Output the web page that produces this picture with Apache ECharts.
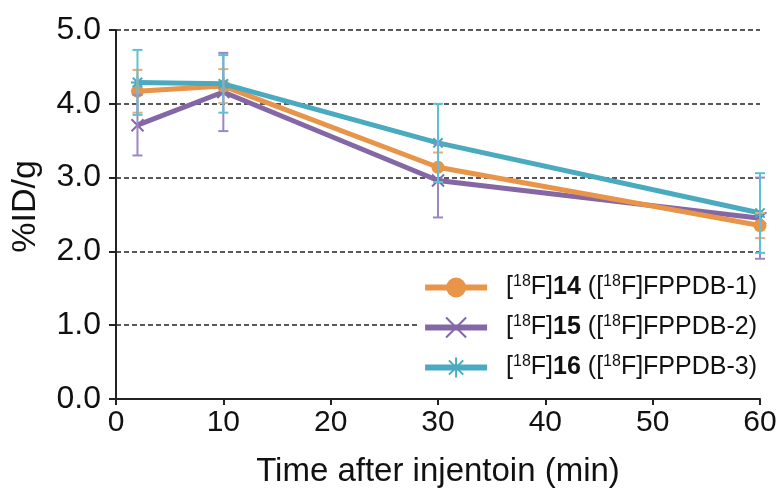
<!DOCTYPE html>
<html>
<head>
<meta charset="utf-8">
<script src="https://cdn.jsdelivr.net/npm/echarts@6/dist/echarts.min.js"></script>
<style>html,body{margin:0;padding:0;background:#fff;}#c{width:780px;height:497px;}</style>
</head>
<body>
<div id="c"></div>
<script>
var times = [2, 10, 30, 60];
var yTicks = [0, 1, 2, 3, 4, 5];
var xTicks = [0, 10, 20, 30, 40, 50, 60];
var mean14 = [4.17, 4.24, 3.14, 2.35];
var sd14   = [0.29, 0.23, 0.20, 0.17];
var mean15 = [3.71, 4.16, 2.96, 2.45];
var sd15   = [0.41, 0.53, 0.50, 0.55];
var mean16 = [4.29, 4.27, 3.47, 2.52];
var sd16   = [0.44, 0.39, 0.53, 0.54];

var seriesNames = ['s14', 's15', 's16'];
var legendText = {
  s14: '{g| }{n|[}{sup|18}{n|F]}{b|14}{n| ([}{sup|18}{n|F]FPPDB-1)}',
  s15: '{g| }{n|[}{sup|18}{n|F]}{b|15}{n| ([}{sup|18}{n|F]FPPDB-2)}',
  s16: '{g| }{n|[}{sup|18}{n|F]}{b|16}{n| ([}{sup|18}{n|F]FPPDB-3)}'
};
var lineColors = ['#E8954A', '#8468A6', '#4AAABF'];
var barColors = ['#F2AA6A', '#9C87C2', '#5EC0D8'];

function pts(means) { return times.map(function (t, i) { return [t, means[i]]; }); }
function errs(means, sds) { return times.map(function (t, i) { return [t, means[i] - sds[i], means[i] + sds[i]]; }); }

var xSym = 'path://M0,0L10,10M10,0L0,10';
var starSym = 'path://M0,0L10,10M10,0L0,10M5,-2L5,12M-2,5L12,5';

function errSeries(data, color) {
  return {
    type: 'custom',
    z: 5,
    silent: true,
    renderItem: function (params, api) {
      var x = api.value(0);
      var lo = api.coord([x, api.value(1)]);
      var hi = api.coord([x, api.value(2)]);
      var hw = 5;
      var st = { stroke: color, lineWidth: 2 };
      return {
        type: 'group',
        children: [
          { type: 'line', shape: { x1: lo[0], y1: lo[1], x2: hi[0], y2: hi[1] }, style: st },
          { type: 'line', shape: { x1: lo[0] - hw, y1: lo[1], x2: lo[0] + hw, y2: lo[1] }, style: st },
          { type: 'line', shape: { x1: hi[0] - hw, y1: hi[1], x2: hi[0] + hw, y2: hi[1] }, style: st }
        ]
      };
    },
    encode: { x: 0, y: [1, 2] },
    data: data
  };
}

var chart = echarts.init(document.getElementById('c'), null, { renderer: 'canvas' });
var font = 'Liberation Sans, Arial, sans-serif';
chart.setOption({
  animation: false,
  backgroundColor: '#fff',
  textStyle: { fontFamily: font },
  grid: { left: 116, right: 20, top: 30, bottom: 98, containLabel: false },
  xAxis: {
    type: 'value', min: 0, max: 60, interval: 10,
    name: 'Time after injentoin (min)', nameLocation: 'middle', nameGap: 56,
    nameTextStyle: { fontSize: 33, color: '#111', fontFamily: font },
    axisLine: { lineStyle: { color: '#222', width: 2 } },
    axisTick: { show: true, length: 6, lineStyle: { color: '#222', width: 2 } },
    axisLabel: { fontSize: 30, color: '#111', margin: 9, fontFamily: font,
      customValues: xTicks },
    splitLine: { show: false }
  },
  yAxis: {
    type: 'value', min: 0, max: 5, interval: 1,
    name: '%ID/g', nameLocation: 'middle', nameGap: 73, nameRotate: 90,
    nameTextStyle: { fontSize: 34, color: '#111', fontFamily: font, padding: [0, 0, 0, 16] },
    axisLine: { show: true, lineStyle: { color: '#222', width: 2 } },
    axisTick: { show: true, length: 7, lineStyle: { color: '#222', width: 2 } },
    axisLabel: { fontSize: 32, color: '#111', margin: 15, fontFamily: font,
      formatter: function (v) { return v.toFixed(1); } },
    splitLine: { show: true, lineStyle: { color: '#222', width: 1.5, type: [5, 3] } }
  },
  legend: {
    orient: 'vertical', right: 18, top: 270,
    itemWidth: 62, itemHeight: 25, itemGap: 14,
    backgroundColor: '#fff',
    padding: [4, 5, 4, 3],
    data: seriesNames,
    lineStyle: { width: 6 },
    formatter: function (name) { return legendText[name]; },
    textStyle: {
      fontFamily: font,
      rich: {
        g: { width: 14, fontSize: 10 },
        n: { fontSize: 25, color: '#111', lineHeight: 27, fontFamily: font },
        b: { fontSize: 25, color: '#111', fontWeight: 'bold', lineHeight: 27, fontFamily: font },
        sup: { fontSize: 16, color: '#111', verticalAlign: 'top', lineHeight: 16, fontFamily: font }
      }
    }
  },
  series: [
    { name: 's14', type: 'line', data: pts(mean14), symbol: 'circle', symbolSize: 13,
      lineStyle: { width: 5, color: lineColors[0] }, itemStyle: { color: lineColors[0] }, z: 3 },
    { name: 's15', type: 'line', data: pts(mean15), symbol: xSym, symbolSize: 12,
      lineStyle: { width: 5, color: lineColors[1] },
      itemStyle: { color: lineColors[1], borderColor: lineColors[1], borderWidth: 2 }, z: 2 },
    { name: 's16', type: 'line', data: pts(mean16), symbol: starSym, symbolSize: 13,
      lineStyle: { width: 5, color: lineColors[2] },
      itemStyle: { color: lineColors[2], borderColor: lineColors[2], borderWidth: 2 }, z: 4 },
    errSeries(errs(mean14, sd14), barColors[0]),
    errSeries(errs(mean15, sd15), barColors[1]),
    errSeries(errs(mean16, sd16), barColors[2])
  ]
});
</script>
</body>
</html>
